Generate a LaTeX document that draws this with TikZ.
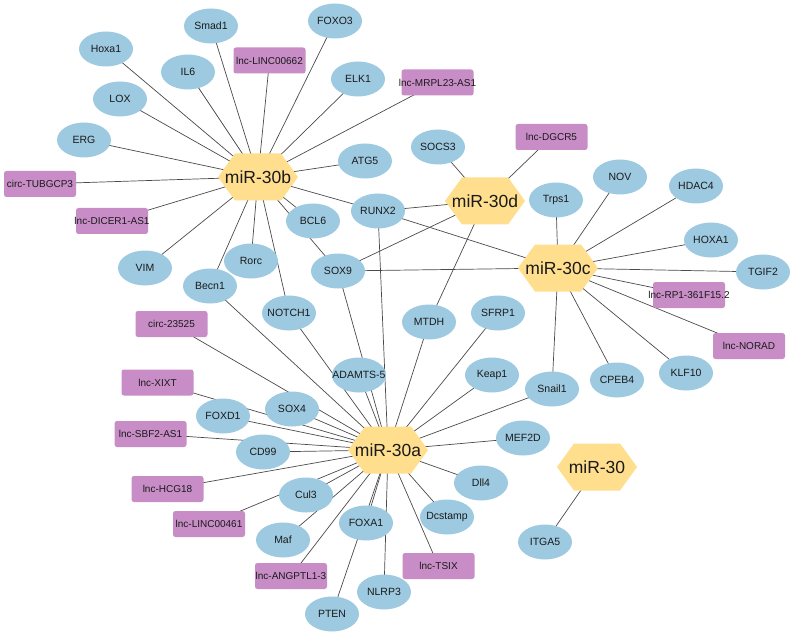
\documentclass[tikz,border=0pt]{standalone}
\usepackage{fontspec}
\setmainfont{Liberation Sans}
\usetikzlibrary{shapes.geometric,backgrounds}
\definecolor{genec}{HTML}{9DCAE1}
\definecolor{lncc}{HTML}{C88DC6}
\definecolor{hubc}{HTML}{FFDF8E}
\definecolor{edgec}{HTML}{4A4A4A}
\definecolor{txtc}{HTML}{1A1A1A}
\begin{document}
\begin{tikzpicture}[x=1pt,y=-1pt,
  gene/.style={ellipse, fill=genec, minimum width=54pt, minimum height=35pt, inner sep=0pt,
    label={[font=\fontsize{10.5}{12}\selectfont, text=txtc, inner sep=0pt]center:#1}},
  lnc/.style={rectangle, rounded corners=2.5pt, fill=lncc, minimum width=72pt, minimum height=26pt, inner sep=0pt,
    label={[font=\fontsize{10}{12}\selectfont, text=txtc, inner sep=0pt]center:#1}},
  hub/.style={rectangle, minimum width=80pt, minimum height=47pt, inner sep=0pt, text=txtc,
    font=\fontsize{17.5}{20}\selectfont,
    path picture={\fill[hubc] (path picture bounding box.west)
      -- ([xshift=17pt]path picture bounding box.north west)
      -- ([xshift=-17pt]path picture bounding box.north east)
      -- (path picture bounding box.east)
      -- ([xshift=-17pt]path picture bounding box.south east)
      -- ([xshift=17pt]path picture bounding box.south west) -- cycle;}},
  edge/.style={draw=edgec, line width=0.7pt}]
\useasboundingbox (0,0) rectangle (795,639);

% hubs
\node[hub] (b30b) at (258,177) {miR-30b};
\node[hub] (b30d) at (485,201) {miR-30d};
\node[hub] (b30c) at (558,268) {miR-30c};
\node[hub] (b30a) at (388,450) {miR-30a};
\node[hub] (b30)  at (597,467) {miR-30};

% genes
\node[gene=Smad1] (smad1) at (211,26) {};
\node[gene=Hoxa1] (hoxa1) at (106,49) {};
\node[gene=IL6] (il6) at (188,72) {};
\node[gene=LOX] (lox) at (120,99) {};
\node[gene=ERG] (erg) at (84,140) {};
\node[gene=FOXO3] (foxo3) at (335,21) {};
\node[gene=ELK1] (elk1) at (358,79) {};
\node[gene=ATG5] (atg5) at (365,161) {};
\node[gene=SOCS3] (socs3) at (438,147) {};
\node[gene=RUNX2] (runx2) at (378,211) {};
\node[gene=BCL6] (bcl6) at (313,221) {};
\node[gene=VIM] (vim) at (145,268) {};
\node[gene=Rorc] (rorc) at (251,261) {};
\node[gene=Becn1] (becn1) at (210,286) {};
\node[gene=SOX9] (sox9) at (338,271) {};
\node[gene=NOTCH1] (notch1) at (289,313) {};
\node[gene=MTDH] (mtdh) at (429,322) {};
\node[gene=SFRP1] (sfrp1) at (498,313) {};
\node[gene=ADAMTS-5] (adamts) at (359,375) {};
\node[gene=Keap1] (keap1) at (492,375) {};
\node[gene=Trps1] (trps1) at (556,200) {};
\node[gene=NOV] (nov) at (620,177) {};
\node[gene=HDAC4] (hdac4) at (696,186) {};
\node[gene=HOXA1] (hoxaone) at (711,240) {};
\node[gene=TGIF2] (tgif2) at (763,272) {};
\node[gene=KLF10] (klf10) at (686,373) {};
\node[gene=CPEB4] (cpeb4) at (617,380) {};
\node[gene=Snail1] (snail1) at (552,389) {};
\node[gene=MEF2D] (mef2d) at (523,438) {};
\node[gene=Dll4] (dll4) at (481,483) {};
\node[gene=Dcstamp] (dcstamp) at (447,517) {};
\node[gene=FOXA1] (foxa1) at (366,523) {};
\node[gene=NLRP3] (nlrp3) at (384,592) {};
\node[gene=PTEN] (pten) at (332,614) {};
\node[gene=Maf] (maf) at (283,540) {};
\node[gene=Cul3] (cul3) at (306,495) {};
\node[gene=CD99] (cd99) at (263,452) {};
\node[gene=FOXD1] (foxd1) at (223,416) {};
\node[gene=SOX4] (sox4) at (292,409) {};
\node[gene=ITGA5] (itga5) at (545,542) {};

% lncRNA / circRNA
\node[lnc=lnc-LINC00662] (linc662) at (269.5,60.5) {};
\node[lnc=lnc-MRPL23-AS1] (mrpl) at (437.5,82.5) {};
\node[lnc=lnc-DGCR5] (dgcr5) at (551.5,137) {};
\node[lnc=circ-TUBGCP3] (tubgcp3) at (40,184) {};
\node[lnc=lnc-DICER1-AS1] (dicer) at (112,221) {};
\node[lnc=lnc-RP1-361F15.2] (rp1) at (689,295) {};
\node[lnc=lnc-NORAD] (norad) at (749,346) {};
\node[lnc=circ-23525] (circ) at (171.5,324) {};
\node[lnc=lnc-XIXT] (xixt) at (157.5,382.5) {};
\node[lnc=lnc-SBF2-AS1] (sbf2) at (150.5,434) {};
\node[lnc=lnc-HCG18] (hcg18) at (167.5,489) {};
\node[lnc=lnc-LINC00461] (linc461) at (209,524) {};
\node[lnc=lnc-ANGPTL1-3] (angptl) at (291,576) {};
\node[lnc=lnc-TSIX] (tsix) at (438.5,566) {};

\begin{scope}[on background layer]
\fill[white] (0,0) rectangle (795,639);
\foreach \t in {smad1,hoxa1,il6,lox,erg,tubgcp3,dicer,vim,becn1,rorc,notch1,bcl6,sox9,runx2,atg5,mrpl,elk1,foxo3,linc662}
  \draw[edge] (b30b.center) -- (\t.center);
\foreach \t in {socs3,dgcr5,runx2,sox9,mtdh}
  \draw[edge] (b30d.center) -- (\t.center);
\foreach \t in {runx2,sox9,trps1,nov,hdac4,hoxaone,tgif2,rp1,norad,klf10,cpeb4,snail1}
  \draw[edge] (b30c.center) -- (\t.center);
\foreach \t in {becn1,circ,notch1,sox9,adamts,runx2,mtdh,sfrp1,keap1,snail1,mef2d,dll4,dcstamp,tsix,nlrp3,foxa1,pten,angptl,maf,linc461,cul3,hcg18,cd99,sbf2,foxd1,sox4,xixt}
  \draw[edge] (b30a.center) -- (\t.center);
\draw[edge] (b30.center) -- (itga5.center);
\end{scope}
\end{tikzpicture}
\end{document}
